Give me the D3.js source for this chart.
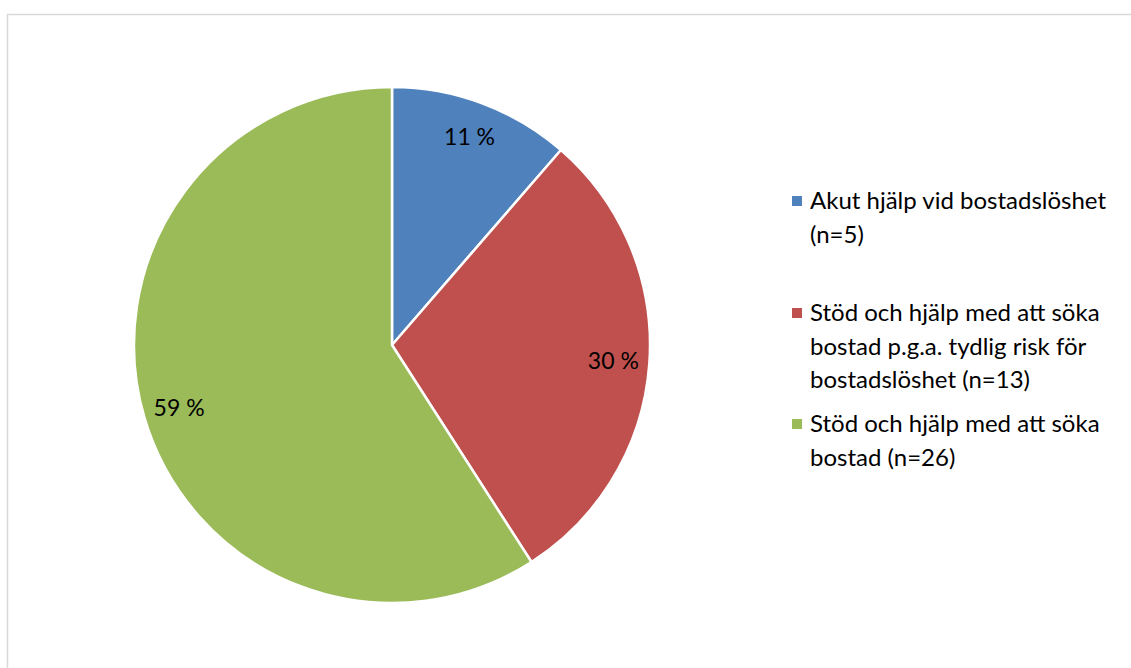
<!DOCTYPE html>
<html>
<head>
<meta charset="utf-8">
<script src="https://cdn.jsdelivr.net/npm/d3@7"></script>
<style>
	body { margin: 0; background: #fff; }
	svg { display: block; }
	text { font-family: Lato, 'Open Sans', sans-serif; fill: #000; }
</style>
</head>
<body>
<svg id="canvas" width="1131" height="668"></svg>
<script>
const categories = [
	'Akut hjälp vid bostadslöshet (n=5)',
	'Stöd och hjälp med att söka bostad p.g.a. tydlig risk för bostadslöshet (n=13)',
	'Stöd och hjälp med att söka bostad (n=26)',
];
const counts = [5, 13, 26];
const legendLines = [
	['Akut hjälp vid bostadslöshet', '(n=5)'],
	['Stöd och hjälp med att söka', 'bostad p.g.a. tydlig risk för', 'bostadslöshet (n=13)'],
	['Stöd och hjälp med att söka', 'bostad (n=26)'],
];
const colors = ['#4f81bd', '#c0504d', '#9bbb59'];

const canvas = d3.select('#canvas');

// chart area border
canvas
	.append('rect')
	.attr('x', 7.5)
	.attr('y', 14.5)
	.attr('width', 1140)
	.attr('height', 700)
	.attr('fill', 'none')
	.attr('stroke', '#d9d9d9')
	.attr('stroke-width', 1.5);

const cx = 392;
const cy = 345;
const radius = 258;
const total = d3.sum(counts);

const pie = d3.pie().sort(null).value((d) => d);
const arcs = pie(counts);

const arc = d3.arc().innerRadius(0).outerRadius(radius);
const labelArc = d3.arc().innerRadius(radius * 0.86).outerRadius(radius * 0.86);

const pieGroup = canvas.append('g').attr('transform', `translate(${cx},${cy})`);

pieGroup
	.selectAll('path')
	.data(arcs)
	.enter()
	.append('path')
	.attr('d', arc)
	.attr('fill', (d, i) => colors[i])
	.attr('stroke', '#fff')
	.attr('stroke-width', 2.5)
	.attr('stroke-linejoin', 'round');

pieGroup
	.selectAll('text.label')
	.data(arcs)
	.enter()
	.append('text')
	.attr('class', 'label')
	.attr('transform', (d) => `translate(${labelArc.centroid(d)})`)
	.attr('text-anchor', 'middle')
	.attr('dy', '0.35em')
	.style('font-size', '23px')
	.text((d) => Math.round((d.value / total) * 100) + ' %');

// legend
const legend = canvas.append('g');
const legendStarts = [201, 313, 424];
const lineHeight = 33.5;

legendLines.forEach((lines, i) => {
	const g = legend.append('g').attr('transform', `translate(792,${legendStarts[i]})`);
	g.append('rect')
		.attr('x', 0)
		.attr('y', -5)
		.attr('width', 10)
		.attr('height', 10)
		.attr('fill', colors[i]);
	g.selectAll('text')
		.data(lines)
		.enter()
		.append('text')
		.attr('x', 18)
		.attr('y', (d, j) => j * lineHeight)
		.attr('dy', '0.35em')
		.style('font-size', '24px')
		.text((d) => d);
});
</script>
</body>
</html>
